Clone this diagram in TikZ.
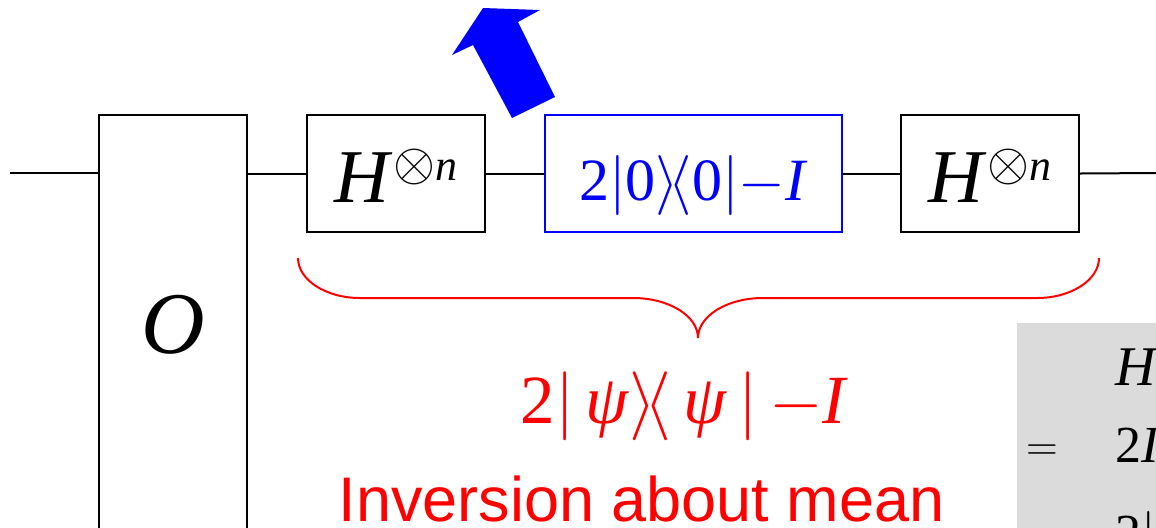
\RequirePackage{fix-cm}
\documentclass[tikz,border=0pt]{standalone}
\usepackage{fontspec}
\setmainfont{Liberation Serif}
\newfontfamily\arialfont{Liberation Sans}

\tikzset{
  compuerta/.style={draw, line width=1pt, inner sep=0pt, fill=white,
    minimum width=89pt, minimum height=58.5pt, text height=28.5pt, text depth=0pt},
  alambre/.style={line width=1pt},
}
\newcommand{\hadamardn}{{\fontsize{38}{40}\selectfont\textit{H}}\raisebox{11pt}{{\fontsize{27}{28}\selectfont$\otimes$}{\fontsize{22}{23}\selectfont\textit{n}}}}

\begin{document}
\begin{tikzpicture}[x=0.5pt, y=-0.5pt]

 % --- MARCO ---
 \useasboundingbox (0,0) rectangle (1156,527);
 \clip (0,0) rectangle (1156,527);

 % --- CAJA GRIS (a la derecha, cortada) ---
 \fill[black!14] (1017,323) rectangle (1180,560);
 \node[anchor=base west, inner sep=0pt] (gh) at (1115,385) {\fontsize{28}{30}\selectfont\textit{H}};
 \node[inner sep=0pt] (geq) at (1042,453) {\fontsize{22}{23}\selectfont$=$};
 \node[anchor=base west, inner sep=0pt] (g2i) at (1115,462) {\fontsize{26}{28}\selectfont 2\textit{I}};
 \node[anchor=base west, inner sep=0pt] (g2b) at (1115,550) {\fontsize{26}{28}\selectfont 2$|$};

 % --- COMPUERTAS ---
 \node[draw, line width=1pt, inner sep=0pt, minimum width=74pt, minimum height=210pt] (oraculo) at (173,325)
   {\fontsize{44}{46}\selectfont\textit{O}};
 \node[compuerta] (h1) at (396,173.5) {\hadamardn};
 \node[compuerta, draw=blue, text=blue, minimum width=148.5pt, text height=26.5pt] (difusion) at (693.5,173.5)
   {\fontsize{30}{31}\selectfont 2$|$0$\rangle\mkern-3mu\langle$0$|-$\textit{I}};
 \node[compuerta] (h2) at (990,173.5) {\hadamardn};

 % --- ALAMBRE ---
 \coordinate (entrada) at (10,173);
 \coordinate (salida) at (1156,173);
 \draw[alambre] (entrada) -- (entrada -| oraculo.west);
 \draw[alambre] (oraculo.east |- h1.west) -- (h1.west);
 \draw[alambre] (h1.east) -- (difusion.west);
 \draw[alambre] (difusion.east) -- (h2.west);
 \draw[alambre] (h2.east) -- (salida);

 % --- FLECHA AZUL ---
 \fill[blue] (483,8) -- (540,10) -- (518,22) -- (555,97) -- (512,118) -- (473,45) -- (452,55) -- cycle;

 % --- LLAVE ROJA ---
 % (dibujada a mano con curvas de Bezier)
 \draw[red, line width=1pt] (298,258) .. controls (298,280) and (326,298) .. (360,298)
   -- (633,298) .. controls (669,298) and (698,316) .. (698,338)
   .. controls (698,316) and (727,298) .. (763,298)
   -- (1037,298) .. controls (1071,298) and (1099,280) .. (1099,258);

 % Etiquetas
 \node[red, anchor=base, inner sep=0pt] (formula) at (684.5,423)
   {\fontsize{34.5}{36}\selectfont 2$|$\,\textit{ψ}$\rangle\mkern-3mu\langle$\,\textit{ψ}\,$|$\,$-$\textit{I}};
 \node[red, anchor=base, inner sep=0pt] (inversion) at (641.5,521)
   {\arialfont\fontsize{31.5}{33}\selectfont Inversion about mean};

\end{tikzpicture}
\end{document}
